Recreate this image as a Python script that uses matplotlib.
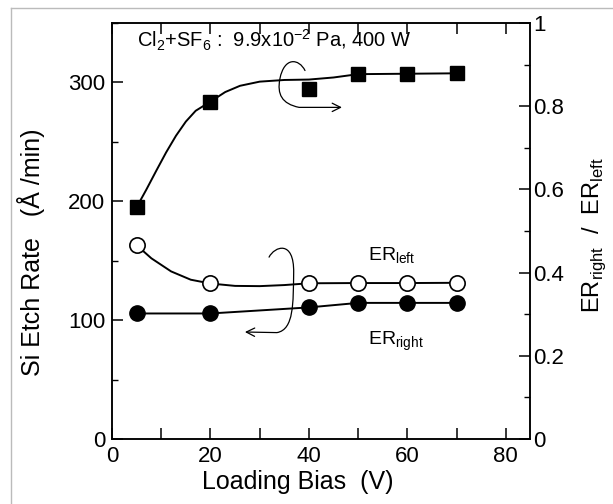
import matplotlib
matplotlib.use("Agg")
import matplotlib.pyplot as plt
from matplotlib.path import Path
from matplotlib.patches import FancyArrowPatch
from matplotlib.lines import Line2D
from matplotlib.ticker import MultipleLocator, FuncFormatter

plt.rcParams['font.family'] = ['Liberation Sans', 'DejaVu Sans']

# ---- data ----
bias = [5, 20, 40, 50, 60, 70]
er_left = [163, 131, 131, 131, 131, 131]               # open circles (Å/min)
er_right = [105.6, 105.6, 110.7, 114.5, 114.5, 114.5]  # filled circles (Å/min)
ratio = [0.557, 0.811, 0.842, 0.878, 0.878, 0.879]     # squares (right axis)

# hand-drawn guide curves
ratio_curve_x = [5, 7, 9, 11, 13, 15, 17, 20, 23, 26, 30, 35, 40, 45, 50, 60, 70]
ratio_curve_y = [0.557, 0.600, 0.645, 0.689, 0.729, 0.763, 0.789, 0.811, 0.834,
                 0.849, 0.859, 0.863, 0.864, 0.869, 0.877, 0.878, 0.879]
left_curve_x = [5, 8, 12, 16, 20, 25, 30, 35, 40, 50, 60, 70]
left_curve_y = [163, 152, 141, 134, 130.8, 128.8, 128.6, 129.5, 131, 131.2, 131.2, 131.4]

x_ticks = [0, 20, 40, 60, 80]
left_ticks = [0, 100, 200, 300]
right_ticks = [0, 0.2, 0.4, 0.6, 0.8, 1.0]

fig = plt.figure(figsize=(6.13, 5.04), dpi=100)
ax = fig.add_axes([0.1827, 0.129, 0.8654 - 0.1827, 0.9544 - 0.129])
ax2 = ax.twinx()

lw = 1.4
ax.plot(left_curve_x, left_curve_y, color='black', lw=lw, zorder=2)
ax.plot(bias, er_left, 'o', ms=11, mfc='white', mec='black', mew=1.2, zorder=3)
ax.plot(bias, er_right, '-o', color='black', lw=lw, ms=11, zorder=3)
ax2.plot(ratio_curve_x, ratio_curve_y, color='black', lw=lw, zorder=2)
ax2.plot(bias, ratio, 's', color='black', ms=10, zorder=3)

ax.set_xlim(0, 85)
ax.set_ylim(0, 350)
ax2.set_ylim(0, 1)

ax.xaxis.set_major_locator(MultipleLocator(10))
ax.xaxis.set_major_formatter(FuncFormatter(lambda v, p: f"{v:.0f}" if round(v) % 20 == 0 else ""))
ax.set_yticks(left_ticks)
ax.yaxis.set_minor_locator(MultipleLocator(50))
ax2.set_yticks(right_ticks)
ax2.set_yticklabels(["0", "0.2", "0.4", "0.6", "0.8", "1"])
ax2.yaxis.set_minor_locator(MultipleLocator(0.1))

for a in (ax, ax2):
    for s in a.spines.values():
        s.set_linewidth(1.1)
ax.tick_params(axis='both', which='major', direction='in', length=8, width=1.1,
               labelsize=16, top=True, pad=5)
ax.tick_params(axis='both', which='minor', direction='in', length=4, width=1.0, top=True)
ax.tick_params(axis='y', which='both', right=False)
ax2.tick_params(axis='y', which='major', direction='in', length=8, width=1.1, labelsize=16, pad=2)
ax2.tick_params(axis='y', which='minor', direction='in', length=4, width=1.0)

ax.set_xlabel("Loading Bias  (V)", fontsize=18)
ax.xaxis.set_label_coords(0.444, -0.075)
ax.set_ylabel("Si Etch Rate   (Å /min)", fontsize=18)
ax.yaxis.set_label_coords(-0.16, 0.45)
ax2.set_ylabel(r"ER$_{\mathregular{right}}$  /  ER$_{\mathregular{left}}$", fontsize=17,
               rotation=90)
ax2.yaxis.set_label_coords(1.12, 0.49)

ax.text(5, 335, r"Cl$_{\mathregular{2}}$+SF$_{\mathregular{6}}$ :  9.9x10$^{\mathregular{-2}}$ Pa, 400 W",
        fontsize=14.5, va='center', ha='left')
ax.text(52, 154, r"ER$_{\mathregular{left}}$", fontsize=14, va='center', ha='left')
ax.text(52, 82, r"ER$_{\mathregular{right}}$", fontsize=14, va='center', ha='left')

# hand-drawn curly arrows (annotations)
top_arrow = Path([(39.2, 310), (38.0, 320), (35.0, 322), (34.1, 303),
                  (33.5, 290), (34.5, 282), (38.0, 279), (46.7, 279)],
                 [Path.MOVETO, Path.CURVE4, Path.CURVE4, Path.CURVE4,
                  Path.CURVE4, Path.CURVE4, Path.CURVE4, Path.LINETO])
ax.add_patch(FancyArrowPatch(path=top_arrow, arrowstyle='->,head_length=6,head_width=3',
                             lw=0.9, color='black', zorder=4))
bot_arrow = Path([(31.9, 153), (33.0, 162), (37.0, 168), (36.9, 140),
                  (36.8, 115), (37.0, 92), (33.5, 89.5), (27.0, 90)],
                 [Path.MOVETO, Path.CURVE4, Path.CURVE4, Path.CURVE4,
                  Path.CURVE4, Path.CURVE4, Path.CURVE4, Path.LINETO])
ax.add_patch(FancyArrowPatch(path=bot_arrow, arrowstyle='->,head_length=6,head_width=3',
                             lw=0.9, color='black', zorder=4))

# light gray outer frame (top and left edges visible)
fig.add_artist(Line2D([11 / 613, 11 / 613], [0, 1 - 8 / 504], transform=fig.transFigure,
                      color='#bbbbbb', lw=1.0))
fig.add_artist(Line2D([11 / 613, 1], [1 - 8 / 504, 1 - 8 / 504], transform=fig.transFigure,
                      color='#bbbbbb', lw=1.0))

fig.savefig("out.png", dpi=100)
